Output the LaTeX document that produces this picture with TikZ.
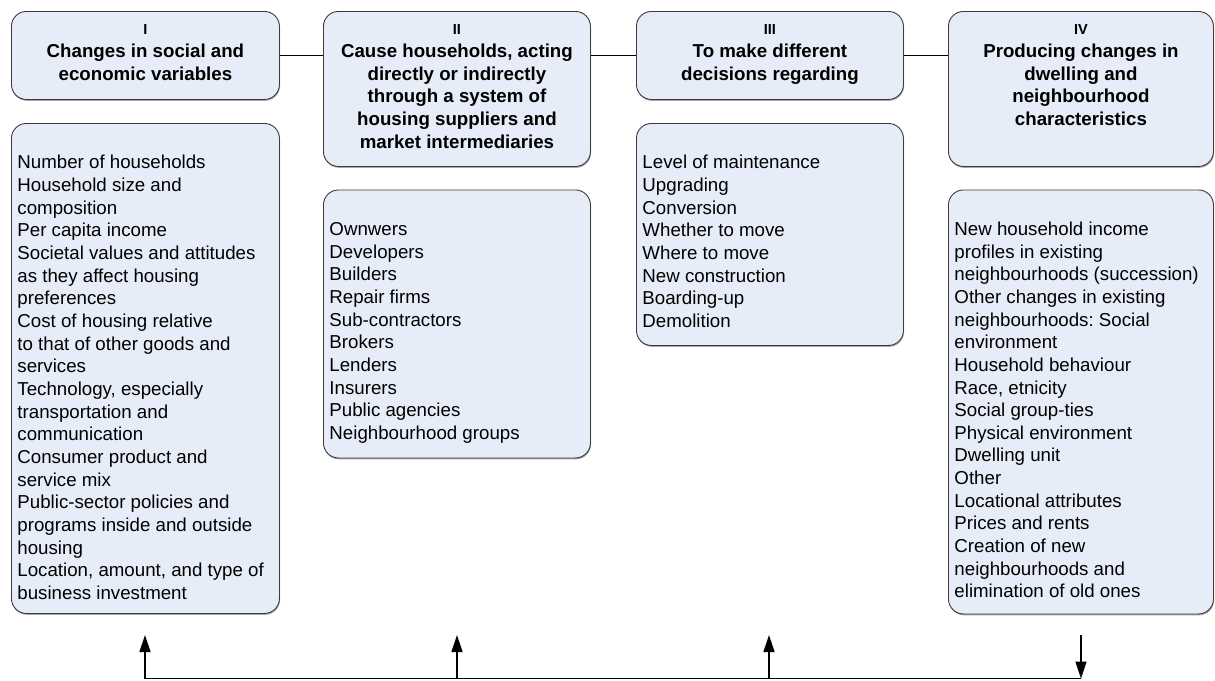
\documentclass[tikz,border=0pt]{standalone}
\usepackage{fontspec}
\setmainfont{Liberation Sans}
\usetikzlibrary{arrows.meta,shadows}
\frenchspacing

\definecolor{panelfill}{RGB}{231,237,248}
\definecolor{paneledge}{RGB}{60,60,60}

% first line of a heading: the roman numeral, set smaller
\newcommand\numeral[1]{\rule{0pt}{23.3pt}{\fontsize{14.5}{18}\selectfont #1}\\[0.4pt]}
% strut that puts the first baseline of a list 45.5pt below the top edge
\newcommand\listtop{\rule{0pt}{45.5pt}}

\tikzset{
  x=1pt, y=-1pt,
  panel/.style={draw=paneledge, fill=panelfill, line width=0.9pt,
    rounded corners=15pt, inner xsep=6pt, inner ysep=0pt, anchor=north west,
    drop shadow={shadow xshift=0.6pt, shadow yshift=-1.4pt, fill=black, opacity=0.35}},
  headfont/.style={font=\bfseries\fontsize{18.7}{22.6}\selectfont},
  listfont/.style={font=\fontsize{18.7}{22.65}\selectfont},
  link/.style={draw=black, line width=1.1pt},
  flow/.style={draw=black, line width=1.4pt},
  tip/.style={-{Triangle[length=17pt,width=11pt]}},
}

\begin{document}
\begin{tikzpicture}
\useasboundingbox (0,0) rectangle (1215,680);

% ---- headings ----
\node[panel, headfont] (h1) at (11,11) {\parbox[t][88pt][t]{256pt}{\centering
  \numeral{I}Changes in social and\\economic variables}};
\node[panel, headfont] (h2) at (323,11) {\parbox[t][155pt][t]{255pt}{\centering
  \numeral{II}Cause households, acting\\directly or indirectly\\through a system of\\housing suppliers and\\market intermediaries}};
\node[panel, headfont] (h3) at (636,11) {\parbox[t][88pt][t]{255pt}{\centering
  \numeral{III}To make different\\decisions regarding}};
\node[panel, headfont] (h4) at (948,11) {\parbox[t][155pt][t]{253pt}{\centering
  \numeral{IV}Producing changes in\\dwelling and\\neighbourhood\\characteristics}};

% ---- lists ----
\node[panel, listfont] (b1) at (11,123) {\parbox[t][490pt][t]{256pt}{\raggedright
  \listtop Number of households\\
  Household size and\\
  composition\\
  Per capita income\\
  Societal values and attitudes\\
  as they affect housing\\
  preferences\\
  Cost of housing relative\\
  to that of other goods and\\
  services\\
  Technology, especially\\
  transportation and\\
  communication\\
  Consumer product and\\
  service mix\\
  Public-sector policies and\\
  programs inside and outside\\
  housing\\
  Location, amount, and type of\\
  business investment}};

\node[panel, listfont] (b2) at (323,189.5) {\parbox[t][268pt][t]{255pt}{\raggedright
  \listtop Ownwers\\
  Developers\\
  Builders\\
  Repair firms\\
  Sub-contractors\\
  Brokers\\
  Lenders\\
  Insurers\\
  Public agencies\\
  Neighbourhood groups}};

\node[panel, listfont] (b3) at (636,123) {\parbox[t][222pt][t]{255pt}{\raggedright
  \listtop Level of maintenance\\
  Upgrading\\
  Conversion\\
  Whether to move\\
  Where to move\\
  New construction\\
  Boarding-up\\
  Demolition}};

\node[panel, listfont] (b4) at (948,189.5) {\parbox[t][424pt][t]{253pt}{\raggedright
  \listtop New household income\\
  profiles in existing\\
  neighbourhoods (succession)\\
  Other changes in existing\\
  neighbourhoods: Social\\
  environment\\
  Household behaviour\\
  Race, etnicity\\
  Social group-ties\\
  Physical environment\\
  Dwelling unit\\
  Other\\
  Locational attributes\\
  Prices and rents\\
  Creation of new\\
  neighbourhoods and\\
  elimination of old ones}};

% ---- links between the headings ----
\draw[link] (h1.east) -- (h1.east -| h2.west);
\draw[link] (h2.east |- h3.west) -- (h3.west);
\draw[link] (h3.east) -- (h3.east -| h4.west);

% ---- feedback loop along the bottom ----
\coordinate (u1) at (145,635);
\coordinate (u2) at (457,635);
\coordinate (u3) at (769,635);
\coordinate (u4) at (1081,635);
\coordinate (r1) at (145,678.6);
\coordinate (r2) at (457,678.6);
\coordinate (r3) at (769,678.6);
\coordinate (r4) at (1081,678.6);

\draw[flow] (r1) -- (r4);
\draw[flow, tip] (r1) -- (u1);
\draw[flow, tip] (r2) -- (u2);
\draw[flow, tip] (r3) -- (u3);
\draw[flow, tip] (u4) -- (r4);
\end{tikzpicture}
\end{document}
